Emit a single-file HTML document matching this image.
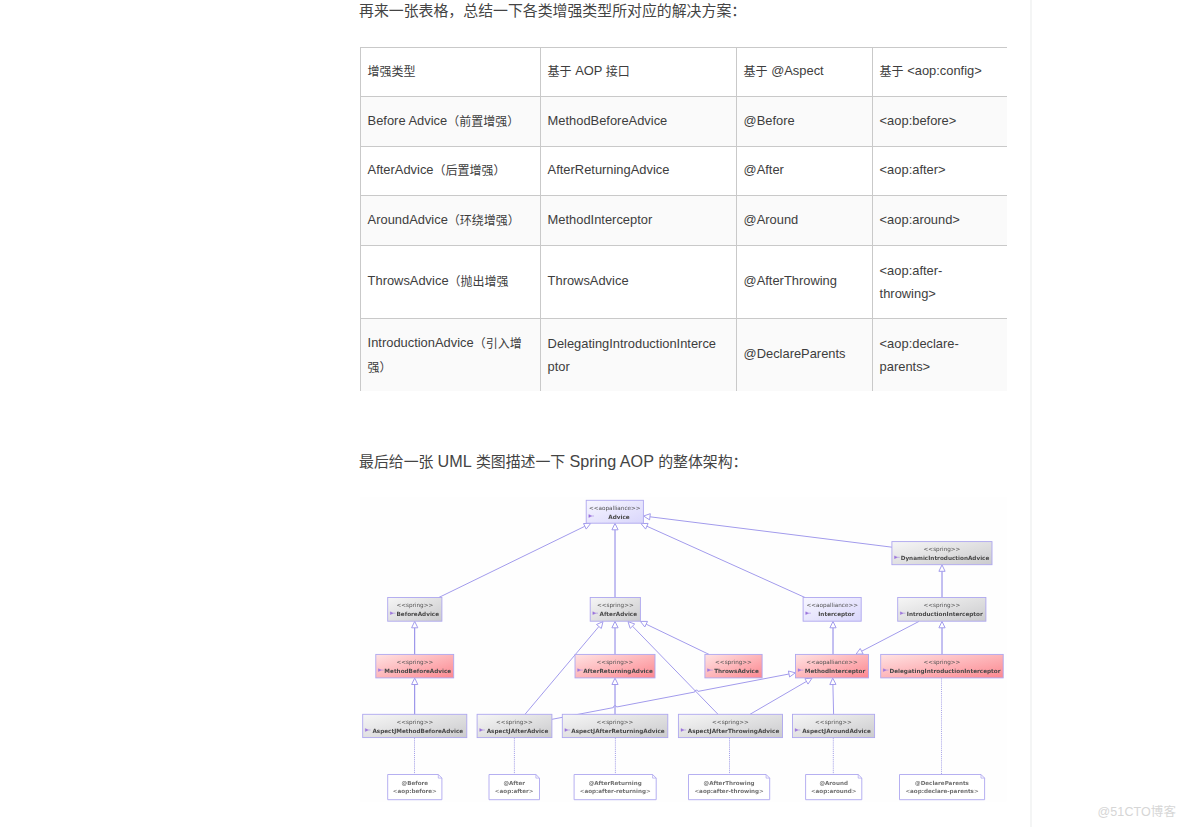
<!DOCTYPE html>
<html lang="zh-CN"><head><meta charset="utf-8"><title>Spring AOP</title>
<style>
html,body{margin:0;padding:0;background:#fff}
body{width:1184px;height:827px;position:relative;overflow:hidden;font-family:"Liberation Sans", "Noto Sans CJK SC", sans-serif;color:#3a3a3a}
.h{position:absolute;left:359px;font-size:14.9px;line-height:20px;white-space:nowrap;color:#444}
.h b{font-weight:normal;font-size:16.2px}
.vline{position:absolute;left:1030px;top:0;width:2px;height:827px;background:#f4f5f5}
.tbl{position:absolute;left:360px;top:0;width:646.5px;height:400px}
.tr{position:absolute;left:0;width:646.5px;border-top:1px solid #c9c9c9;box-sizing:border-box}
.td{position:absolute;top:0;height:100%;border-left:1px solid #c9c9c9;box-sizing:border-box;display:flex;align-items:center;padding:0 0 0 6.6px;font-size:12.9px;line-height:24px;color:#3d3d3d;white-space:nowrap}
.td i{font-style:normal;font-size:12px;position:relative;top:1px}
.td span{position:relative;top:-1px}
.td span.m{top:0;line-height:23.5px}
.uml{position:absolute;left:0;top:0}
.uml text{font-family:"DejaVu Sans","Liberation Sans",sans-serif;text-anchor:middle}
.uml .st{font-size:5.7px;fill:#525252}
.uml .nm{font-size:5.7px;font-weight:bold;fill:#484848}
.uml .nt{font-size:5.6px;font-weight:bold;fill:#707070}
.wm{position:absolute;left:1097.5px;top:804px;font-size:12.5px;line-height:16px;color:#d6d6d6;white-space:nowrap;letter-spacing:0.1px}
</style></head><body>
<div class="vline"></div>
<div class="h" style="top:1px">再来一张表格，总结一下各类增强类型所对应的解决方案：</div>
<div class="tbl">
<div class="tr" style="top:47.0px;height:49.0px;background:#fff">
<div class="td" style="left:0.0px;width:180.0px"><span><i>增强类型</i></span></div>
<div class="td" style="left:180.0px;width:196.0px"><span><i>基于</i> AOP <i>接口</i></span></div>
<div class="td" style="left:376.0px;width:136.0px"><span><i>基于</i> @Aspect</span></div>
<div class="td" style="left:512.0px;width:134.5px"><span><i>基于</i> &lt;aop:config&gt;</span></div>
</div>
<div class="tr" style="top:96.0px;height:50.0px;background:#fafafa">
<div class="td" style="left:0.0px;width:180.0px"><span>Before Advice<i>（前置增强）</i></span></div>
<div class="td" style="left:180.0px;width:196.0px"><span>MethodBeforeAdvice</span></div>
<div class="td" style="left:376.0px;width:136.0px"><span>@Before</span></div>
<div class="td" style="left:512.0px;width:134.5px"><span>&lt;aop:before&gt;</span></div>
</div>
<div class="tr" style="top:146.0px;height:49.0px;background:#fff">
<div class="td" style="left:0.0px;width:180.0px"><span>AfterAdvice<i>（后置增强）</i></span></div>
<div class="td" style="left:180.0px;width:196.0px"><span>AfterReturningAdvice</span></div>
<div class="td" style="left:376.0px;width:136.0px"><span>@After</span></div>
<div class="td" style="left:512.0px;width:134.5px"><span>&lt;aop:after&gt;</span></div>
</div>
<div class="tr" style="top:195.0px;height:50.0px;background:#fafafa">
<div class="td" style="left:0.0px;width:180.0px"><span>AroundAdvice<i>（环绕增强）</i></span></div>
<div class="td" style="left:180.0px;width:196.0px"><span>MethodInterceptor</span></div>
<div class="td" style="left:376.0px;width:136.0px"><span>@Around</span></div>
<div class="td" style="left:512.0px;width:134.5px"><span>&lt;aop:around&gt;</span></div>
</div>
<div class="tr" style="top:245.0px;height:73.0px;background:#fff">
<div class="td" style="left:0.0px;width:180.0px"><span>ThrowsAdvice<i>（抛出增强</i></span></div>
<div class="td" style="left:180.0px;width:196.0px"><span>ThrowsAdvice</span></div>
<div class="td" style="left:376.0px;width:136.0px"><span>@AfterThrowing</span></div>
<div class="td" style="left:512.0px;width:134.5px"><span class="m">&lt;aop:after-<br>throwing&gt;</span></div>
</div>
<div class="tr" style="top:318.0px;height:73.0px;background:#fafafa">
<div class="td" style="left:0.0px;width:180.0px"><span class="m">IntroductionAdvice<i>（引入增</i><br><i>强）</i></span></div>
<div class="td" style="left:180.0px;width:196.0px"><span class="m">DelegatingIntroductionInterce<br>ptor</span></div>
<div class="td" style="left:376.0px;width:136.0px"><span>@DeclareParents</span></div>
<div class="td" style="left:512.0px;width:134.5px"><span class="m">&lt;aop:declare-<br>parents&gt;</span></div>
</div>
</div>
<div class="h" style="top:451px">最后给一张 <b>UML</b> 类图描述一下 <b>Spring AOP</b> 的整体架构：</div>
<svg class="uml" width="1184" height="827" viewBox="0 0 1184 827">
<defs>
<filter id="soft2" x="-2%" y="-2%" width="104%" height="104%"><feGaussianBlur stdDeviation="0.4"/></filter>
<filter id="soft" x="-2%" y="-2%" width="104%" height="104%"><feGaussianBlur stdDeviation="0.75"/></filter>
<linearGradient id="g-lav" x1="0" y1="0" x2="1" y2="1"><stop offset="0" stop-color="#f7f6ff"/><stop offset="1" stop-color="#d9d6fb"/></linearGradient>
<linearGradient id="g-grey" x1="0" y1="0" x2="1" y2="1"><stop offset="0" stop-color="#f6f6f6"/><stop offset="1" stop-color="#cbcbcd"/></linearGradient>
<linearGradient id="g-red" x1="0" y1="0" x2="1" y2="1"><stop offset="0" stop-color="#ffe3e3"/><stop offset="1" stop-color="#fc8890"/></linearGradient>
</defs>
<rect x="360" y="497" width="646.5" height="304.5" fill="#fefefe"/>
<g filter="url(#soft2)">
<g fill="none" stroke="#a29bec" stroke-width="1.0">
<path d="M438.8 597.5L584.8 526.3"/>
<path d="M590.6 523.5L586.2 529.1L583.5 523.5Z" fill="#fff"/>
<path d="M615.0 597.5L615.0 529.8" stroke="#8880e6"/>
<path d="M615.0 523.4L618.1 529.8L611.9 529.8Z" fill="#fff"/>
<path d="M805.0 597.5L646.8 526.2"/>
<path d="M641.0 523.6L648.1 523.4L645.6 529.1Z" fill="#fff"/>
<path d="M892.0 547.2L650.0 516.8"/>
<path d="M643.6 516.0L650.3 513.7L649.6 519.9Z" fill="#fff"/>
<path d="M942.0 597.5L942.0 571.3" stroke="#8880e6"/>
<path d="M942.0 564.9L945.1 571.3L938.9 571.3Z" fill="#fff"/>
<path d="M414.7 654.4L414.7 627.8" stroke="#8880e6"/>
<path d="M414.7 621.4L417.8 627.8L411.6 627.8Z" fill="#fff"/>
<path d="M414.7 714.3L414.7 684.5" stroke="#8880e6"/>
<path d="M414.7 678.1L417.8 684.5L411.6 684.5Z" fill="#fff"/>
<path d="M615.0 654.4L615.0 627.8" stroke="#8880e6"/>
<path d="M615.0 621.4L618.1 627.8L611.9 627.8Z" fill="#fff"/>
<path d="M525.0 714.3L598.9 626.5"/>
<path d="M603.0 621.6L601.3 628.5L596.5 624.5Z" fill="#fff"/>
<path d="M615.0 714.3L615.0 684.5" stroke="#8880e6"/>
<path d="M615.0 678.1L618.1 684.5L611.9 684.5Z" fill="#fff"/>
<path d="M709.0 654.4L646.2 624.2"/>
<path d="M640.4 621.4L647.5 621.4L644.8 627.0Z" fill="#fff"/>
<path d="M718.0 714.3L632.5 626.2"/>
<path d="M628.0 621.6L634.7 624.0L630.2 628.4Z" fill="#fff"/>
<path d="M750.0 714.3L806.5 681.4"/>
<path d="M812.0 678.2L808.0 684.1L804.9 678.7Z" fill="#fff"/>
<path d="M833.6 714.3L832.9 684.5"/>
<path d="M832.7 678.1L836.0 684.4L829.8 684.6Z" fill="#fff"/>
<path d="M833.0 654.4L833.0 627.8" stroke="#8880e6"/>
<path d="M833.0 621.4L836.1 627.8L829.9 627.8Z" fill="#fff"/>
<path d="M919.0 621.4L861.7 651.2"/>
<path d="M856.0 654.2L860.2 648.5L863.1 654.0Z" fill="#fff"/>
<path d="M942.0 654.4L942.0 627.8" stroke="#8880e6"/>
<path d="M942.0 621.4L945.1 627.8L938.9 627.8Z" fill="#fff"/>
<path d="M552 719.3L613.4 707.6A1.6 1.6 0 0 1 616.6 707.0L694.8 692.0A1.6 1.6 0 0 1 698.0 691.4L789.0 674.0"/>
<path d="M795.3 672.8L789.6 677.0L788.4 671.0Z" fill="#fff"/>
</g>
</g>
<g fill="none" stroke="#7a73dc" stroke-width="0.8" stroke-dasharray="1.1 1.0" opacity="0.85">
<path d="M414.5 738.2L414.5 774.2"/>
<path d="M514.4 738.2L514.4 774.2"/>
<path d="M615.4 738.2L615.4 774.2"/>
<path d="M729.5 738.2L729.5 774.2"/>
<path d="M833.3 738.2L833.3 774.2"/>
<path d="M941.6 678.4L941.6 774.2"/>
</g>
<g filter="url(#soft)">
<rect x="586.2" y="500.3" width="57.2" height="22.9" fill="url(#g-lav)" stroke="#aea7ef" stroke-width="0.9"/>
<text x="614.8" y="509.9" class="st">&lt;&lt;aopalliance&gt;&gt;</text>
<text x="619.0" y="518.7" class="nm">Advice</text>
<path d="M588.8 514.6l3 1.4l-3 1.4z" fill="#9a72dc" stroke="#9a72dc" stroke-width="0.4" stroke-linejoin="round"/><path d="M591.8 516.0h2.2" stroke="#a58ae4" stroke-width="0.6"/>
<rect x="891.9" y="541.6" width="100.1" height="23.1" fill="url(#g-grey)" stroke="#aea7ef" stroke-width="0.9"/>
<text x="942.0" y="551.2" class="st">&lt;&lt;spring&gt;&gt;</text>
<text x="945.0" y="560.0" class="nm">DynamicIntroductionAdvice</text>
<path d="M894.5 555.9l3 1.4l-3 1.4z" fill="#9a72dc" stroke="#9a72dc" stroke-width="0.4" stroke-linejoin="round"/><path d="M897.5 557.3h2.2" stroke="#a58ae4" stroke-width="0.6"/>
<rect x="387.7" y="597.5" width="54.2" height="23.7" fill="url(#g-grey)" stroke="#aea7ef" stroke-width="0.9"/>
<text x="414.8" y="607.1" class="st">&lt;&lt;spring&gt;&gt;</text>
<text x="417.8" y="615.9" class="nm">BeforeAdvice</text>
<path d="M390.3 611.8l3 1.4l-3 1.4z" fill="#9a72dc" stroke="#9a72dc" stroke-width="0.4" stroke-linejoin="round"/><path d="M393.3 613.2h2.2" stroke="#a58ae4" stroke-width="0.6"/>
<rect x="590.2" y="597.5" width="50.2" height="23.7" fill="url(#g-grey)" stroke="#aea7ef" stroke-width="0.9"/>
<text x="615.3" y="607.1" class="st">&lt;&lt;spring&gt;&gt;</text>
<text x="618.3" y="615.9" class="nm">AfterAdvice</text>
<path d="M592.8 611.8l3 1.4l-3 1.4z" fill="#9a72dc" stroke="#9a72dc" stroke-width="0.4" stroke-linejoin="round"/><path d="M595.8 613.2h2.2" stroke="#a58ae4" stroke-width="0.6"/>
<rect x="803.1" y="597.5" width="58.1" height="23.7" fill="url(#g-lav)" stroke="#aea7ef" stroke-width="0.9"/>
<text x="832.2" y="607.1" class="st">&lt;&lt;aopalliance&gt;&gt;</text>
<text x="836.4" y="615.9" class="nm">Interceptor</text>
<path d="M805.7 611.8l3 1.4l-3 1.4z" fill="#9a72dc" stroke="#9a72dc" stroke-width="0.4" stroke-linejoin="round"/><path d="M808.7 613.2h2.2" stroke="#a58ae4" stroke-width="0.6"/>
<rect x="897.7" y="597.5" width="88.2" height="23.7" fill="url(#g-grey)" stroke="#aea7ef" stroke-width="0.9"/>
<text x="941.8" y="607.1" class="st">&lt;&lt;spring&gt;&gt;</text>
<text x="944.8" y="615.9" class="nm">IntroductionInterceptor</text>
<path d="M900.3 611.8l3 1.4l-3 1.4z" fill="#9a72dc" stroke="#9a72dc" stroke-width="0.4" stroke-linejoin="round"/><path d="M903.3 613.2h2.2" stroke="#a58ae4" stroke-width="0.6"/>
<rect x="375.8" y="654.4" width="77.9" height="23.5" fill="url(#g-red)" stroke="#aea7ef" stroke-width="0.9"/>
<text x="414.8" y="664.0" class="st">&lt;&lt;spring&gt;&gt;</text>
<text x="417.8" y="672.8" class="nm">MethodBeforeAdvice</text>
<path d="M378.4 668.7l3 1.4l-3 1.4z" fill="#9a72dc" stroke="#9a72dc" stroke-width="0.4" stroke-linejoin="round"/><path d="M381.4 670.1h2.2" stroke="#a58ae4" stroke-width="0.6"/>
<rect x="575.0" y="654.4" width="80.0" height="23.5" fill="url(#g-red)" stroke="#aea7ef" stroke-width="0.9"/>
<text x="615.0" y="664.0" class="st">&lt;&lt;spring&gt;&gt;</text>
<text x="618.0" y="672.8" class="nm">AfterReturningAdvice</text>
<path d="M577.6 668.7l3 1.4l-3 1.4z" fill="#9a72dc" stroke="#9a72dc" stroke-width="0.4" stroke-linejoin="round"/><path d="M580.6 670.1h2.2" stroke="#a58ae4" stroke-width="0.6"/>
<rect x="704.9" y="654.4" width="57.2" height="23.5" fill="url(#g-red)" stroke="#aea7ef" stroke-width="0.9"/>
<text x="733.5" y="664.0" class="st">&lt;&lt;spring&gt;&gt;</text>
<text x="736.5" y="672.8" class="nm">ThrowsAdvice</text>
<path d="M707.5 668.7l3 1.4l-3 1.4z" fill="#9a72dc" stroke="#9a72dc" stroke-width="0.4" stroke-linejoin="round"/><path d="M710.5 670.1h2.2" stroke="#a58ae4" stroke-width="0.6"/>
<rect x="795.5" y="654.4" width="73.0" height="23.5" fill="url(#g-red)" stroke="#aea7ef" stroke-width="0.9"/>
<text x="832.0" y="664.0" class="st">&lt;&lt;aopalliance&gt;&gt;</text>
<text x="835.0" y="672.8" class="nm">MethodInterceptor</text>
<path d="M798.1 668.7l3 1.4l-3 1.4z" fill="#9a72dc" stroke="#9a72dc" stroke-width="0.4" stroke-linejoin="round"/><path d="M801.1 670.1h2.2" stroke="#a58ae4" stroke-width="0.6"/>
<rect x="880.7" y="654.4" width="122.5" height="23.5" fill="url(#g-red)" stroke="#aea7ef" stroke-width="0.9"/>
<text x="942.0" y="664.0" class="st">&lt;&lt;spring&gt;&gt;</text>
<text x="945.0" y="672.8" class="nm">DelegatingIntroductionInterceptor</text>
<path d="M883.3 668.7l3 1.4l-3 1.4z" fill="#9a72dc" stroke="#9a72dc" stroke-width="0.4" stroke-linejoin="round"/><path d="M886.3 670.1h2.2" stroke="#a58ae4" stroke-width="0.6"/>
<rect x="362.7" y="714.3" width="104.1" height="23.3" fill="url(#g-grey)" stroke="#aea7ef" stroke-width="0.9"/>
<text x="414.8" y="723.9" class="st">&lt;&lt;spring&gt;&gt;</text>
<text x="417.8" y="732.7" class="nm">AspectJMethodBeforeAdvice</text>
<path d="M365.3 728.6l3 1.4l-3 1.4z" fill="#9a72dc" stroke="#9a72dc" stroke-width="0.4" stroke-linejoin="round"/><path d="M368.3 730.0h2.2" stroke="#a58ae4" stroke-width="0.6"/>
<rect x="477.1" y="714.3" width="74.8" height="23.3" fill="url(#g-grey)" stroke="#aea7ef" stroke-width="0.9"/>
<text x="514.5" y="723.9" class="st">&lt;&lt;spring&gt;&gt;</text>
<text x="517.5" y="732.7" class="nm">AspectJAfterAdvice</text>
<path d="M479.7 728.6l3 1.4l-3 1.4z" fill="#9a72dc" stroke="#9a72dc" stroke-width="0.4" stroke-linejoin="round"/><path d="M482.7 730.0h2.2" stroke="#a58ae4" stroke-width="0.6"/>
<rect x="562.3" y="714.3" width="105.5" height="23.3" fill="url(#g-grey)" stroke="#aea7ef" stroke-width="0.9"/>
<text x="615.0" y="723.9" class="st">&lt;&lt;spring&gt;&gt;</text>
<text x="618.0" y="732.7" class="nm">AspectJAfterReturningAdvice</text>
<path d="M564.9 728.6l3 1.4l-3 1.4z" fill="#9a72dc" stroke="#9a72dc" stroke-width="0.4" stroke-linejoin="round"/><path d="M567.9 730.0h2.2" stroke="#a58ae4" stroke-width="0.6"/>
<rect x="678.4" y="714.3" width="104.1" height="23.3" fill="url(#g-grey)" stroke="#aea7ef" stroke-width="0.9"/>
<text x="730.5" y="723.9" class="st">&lt;&lt;spring&gt;&gt;</text>
<text x="733.5" y="732.7" class="nm">AspectJAfterThrowingAdvice</text>
<path d="M681.0 728.6l3 1.4l-3 1.4z" fill="#9a72dc" stroke="#9a72dc" stroke-width="0.4" stroke-linejoin="round"/><path d="M684.0 730.0h2.2" stroke="#a58ae4" stroke-width="0.6"/>
<rect x="792.5" y="714.3" width="82.1" height="23.3" fill="url(#g-grey)" stroke="#aea7ef" stroke-width="0.9"/>
<text x="833.5" y="723.9" class="st">&lt;&lt;spring&gt;&gt;</text>
<text x="836.5" y="732.7" class="nm">AspectJAroundAdvice</text>
<path d="M795.1 728.6l3 1.4l-3 1.4z" fill="#9a72dc" stroke="#9a72dc" stroke-width="0.4" stroke-linejoin="round"/><path d="M798.1 730.0h2.2" stroke="#a58ae4" stroke-width="0.6"/>
<path d="M387.7 774.5H438.3L441.9 778.1V799.7H387.7Z" fill="#fff" stroke="#aea7ef" stroke-width="0.9"/>
<path d="M438.3 774.5V778.1H441.9" fill="none" stroke="#aaa2ee" stroke-width="0.7"/>
<text x="414.8" y="785.1" class="nt">@Before</text>
<text x="414.8" y="792.7" class="nt">&lt;aop:before&gt;</text>
<path d="M489.0 774.5H535.9L539.5 778.1V799.7H489.0Z" fill="#fff" stroke="#aea7ef" stroke-width="0.9"/>
<path d="M535.9 774.5V778.1H539.5" fill="none" stroke="#aaa2ee" stroke-width="0.7"/>
<text x="514.2" y="785.1" class="nt">@After</text>
<text x="514.2" y="792.7" class="nt">&lt;aop:after&gt;</text>
<path d="M574.1 774.5H652.6L656.2 778.1V799.7H574.1Z" fill="#fff" stroke="#aea7ef" stroke-width="0.9"/>
<path d="M652.6 774.5V778.1H656.2" fill="none" stroke="#aaa2ee" stroke-width="0.7"/>
<text x="615.2" y="785.1" class="nt">@AfterReturning</text>
<text x="615.2" y="792.7" class="nt">&lt;aop:after-returning&gt;</text>
<path d="M688.5 774.5H766.1L769.7 778.1V799.7H688.5Z" fill="#fff" stroke="#aea7ef" stroke-width="0.9"/>
<path d="M766.1 774.5V778.1H769.7" fill="none" stroke="#aaa2ee" stroke-width="0.7"/>
<text x="729.1" y="785.1" class="nt">@AfterThrowing</text>
<text x="729.1" y="792.7" class="nt">&lt;aop:after-throwing&gt;</text>
<path d="M805.6 774.5H858.2L861.8 778.1V799.7H805.6Z" fill="#fff" stroke="#aea7ef" stroke-width="0.9"/>
<path d="M858.2 774.5V778.1H861.8" fill="none" stroke="#aaa2ee" stroke-width="0.7"/>
<text x="833.7" y="785.1" class="nt">@Around</text>
<text x="833.7" y="792.7" class="nt">&lt;aop:around&gt;</text>
<path d="M899.5 774.5H981.0L984.6 778.1V799.7H899.5Z" fill="#fff" stroke="#aea7ef" stroke-width="0.9"/>
<path d="M981.0 774.5V778.1H984.6" fill="none" stroke="#aaa2ee" stroke-width="0.7"/>
<text x="942.0" y="785.1" class="nt">@DeclareParents</text>
<text x="942.0" y="792.7" class="nt">&lt;aop:declare-parents&gt;</text>
</g>
</svg>
<div class="wm">@51CTO博客</div>
</body></html>
